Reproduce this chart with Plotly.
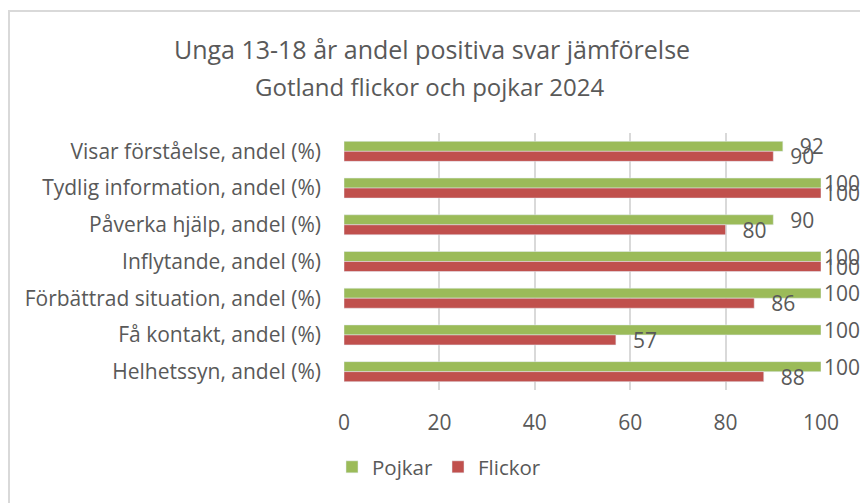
import plotly.graph_objects as go

categories = [
    "Visar förståelse, andel (%)",
    "Tydlig information, andel (%)",
    "Påverka hjälp, andel (%)",
    "Inflytande, andel (%)",
    "Förbättrad situation, andel (%)",
    "Få kontakt, andel (%)",
    "Helhetssyn, andel (%)",
]
pojkar = [92, 100, 90, 100, 100, 100, 100]
flickor = [90, 100, 80, 100, 86, 57, 88]
x_ticks = [0, 20, 40, 60, 80, 100]

title_line1 = "Unga 13-18 år andel positiva svar jämförelse"
title_line2 = "Gotland flickor och pojkar 2024"

FONT = "Open Sans"
TXT = "#595959"

# plot area in pixels
W, H = 860, 503
L, R, T, B = 344, 39, 133, 113
pw, ph = W - L - R, H - T - B


def px_x(px):
    return (px - L) / pw


def px_y(py):
    return 1 + (T - py) / ph


def label(v):
    pad = "\u2002\u2009" if v < 100 else ""
    return pad + str(v)


fig = go.Figure()
fig.add_trace(go.Bar(
    name="Pojkar", y=categories, x=pojkar, orientation="h",
    marker_color="#9BBB59",
    text=[label(v) for v in pojkar], textposition="outside",
    textfont=dict(size=21, color=TXT, family=FONT),
    constraintext="none", cliponaxis=False,
))
fig.add_trace(go.Bar(
    name="Flickor", y=categories, x=flickor, orientation="h",
    marker_color="#C0504D",
    text=[label(v) for v in flickor], textposition="outside",
    textfont=dict(size=21, color=TXT, family=FONT),
    constraintext="none", cliponaxis=False,
))

fig.update_layout(
    width=W, height=H,
    margin=dict(l=L, r=R, t=T, b=B, autoexpand=False),
    paper_bgcolor="white", plot_bgcolor="white",
    barmode="group", bargap=0.455, bargroupgap=0,
    font=dict(family=FONT, color=TXT),
    title=dict(text=title_line1, x=432 / W, xref="container", xanchor="center",
               y=1 - 50 / H, yref="container", yanchor="middle",
               font=dict(size=25, color=TXT, family=FONT)),
    showlegend=True,
    legend=dict(orientation="h", xref="container", yref="container",
                x=439 / W, xanchor="center", y=1 - 467 / H, yanchor="middle",
                font=dict(size=20.5, color=TXT, family=FONT),
                traceorder="normal", itemwidth=30),
    xaxis=dict(range=[0, 100], tickvals=x_ticks, showgrid=True,
               gridcolor="#D9D9D9", gridwidth=2, zeroline=False,
               showline=False, ticks="", ticklabelstandoff=18,
               tickfont=dict(size=21, color=TXT, family=FONT), fixedrange=True),
    yaxis=dict(autorange="reversed", type="category", showgrid=False,
               zeroline=False, showline=False, ticks="",
               ticklabelstandoff=22, automargin=False,
               tickfont=dict(size=21, color=TXT, family=FONT), fixedrange=True),
    annotations=[dict(text=title_line2, xref="paper", yref="paper",
                      x=px_x(429), y=px_y(86), xanchor="center", yanchor="middle",
                      showarrow=False, font=dict(size=24, color=TXT, family=FONT))],
    shapes=[dict(type="rect", xref="paper", yref="paper",
                 x0=px_x(9), x1=px_x(W + 20), y0=px_y(H + 20), y1=px_y(11),
                 line=dict(color="#D9D9D9", width=2), fillcolor="rgba(0,0,0,0)",
                 layer="below")],
)

fig.write_html("out.html", config={"displayModeBar": False},
               post_script="document.body.style.margin='0';document.body.style.overflow='hidden';")
